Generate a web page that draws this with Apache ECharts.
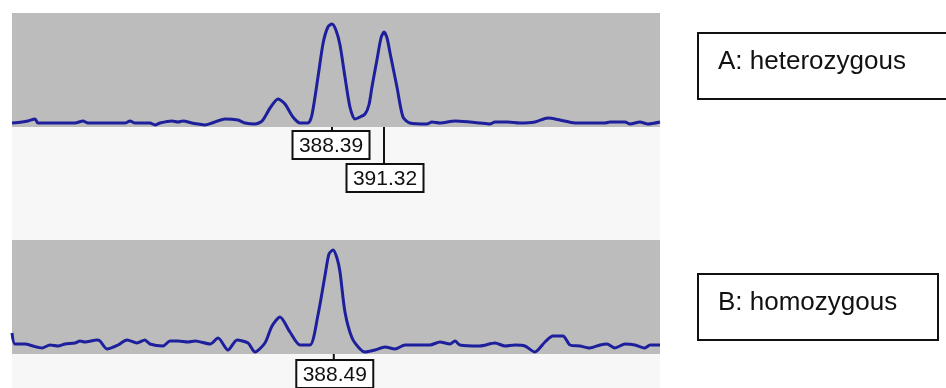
<!DOCTYPE html>
<html>
<head>
<meta charset="utf-8">
<script src="https://cdn.jsdelivr.net/npm/echarts@6/dist/echarts.min.js"></script>
<style>
	html, body { margin: 0; padding: 0; background: #ffffff; }
	#chart { width: 946px; height: 388px; }
</style>
</head>
<body>
<div id="chart"></div>
<script>
	// sample A (heterozygous): fragment size (bp) and signal
	const heteroBp = [370.36, 370.92, 371.26, 371.66, 371.82, 373.91, 374.36, 374.64, 376.73, 377.01, 377.29, 378.13, 378.42, 378.70, 379.37, 379.71, 380.00, 380.50, 380.84, 381.23, 381.63, 382.36, 383.09, 383.49, 384.05, 384.45, 384.90, 385.35, 385.74, 386.19, 386.59, 387.04, 387.26, 387.60, 387.89, 388.16, 388.39, 388.61, 388.84, 389.12, 389.40, 389.68, 389.97, 390.25, 390.47, 390.64, 390.92, 391.15, 391.32, 391.49, 391.66, 392.05, 392.39, 392.78, 393.74, 394.02, 394.47, 395.32, 396.16, 396.72, 397.29, 397.57, 398.30, 398.98, 399.82, 400.56, 401.23, 402.08, 403.77, 404.05, 404.90, 405.18, 405.74, 406.19, 406.87];
	const heteroRfu = [40, 50, 60, 80, 40, 40, 60, 40, 40, 60, 40, 40, 20, 40, 60, 50, 60, 40, 30, 20, 40, 80, 70, 40, 30, 60, 190, 280, 230, 100, 40, 40, 120, 500, 840, 1000, 1030, 970, 820, 500, 200, 80, 100, 130, 220, 400, 670, 890, 950, 890, 740, 400, 100, 40, 30, 50, 40, 60, 50, 40, 30, 50, 50, 40, 50, 90, 70, 40, 40, 50, 50, 30, 50, 30, 50];

	// sample B (homozygous)
	const homoBp = [370.36, 370.53, 371.09, 371.54, 372.05, 372.50, 372.95, 373.35, 373.91, 374.19, 374.47, 375.15, 375.32, 375.71, 376.33, 376.84, 377.40, 377.85, 378.13, 378.87, 379.26, 379.71, 380.28, 380.67, 381.52, 381.97, 382.53, 383.04, 383.66, 384.05, 384.61, 385.01, 385.46, 386.02, 386.59, 387.15, 387.60, 388.00, 388.22, 388.45, 388.67, 388.84, 389.12, 389.52, 389.97, 390.25, 390.81, 391.38, 391.94, 392.50, 393.07, 393.91, 394.47, 395.04, 395.32, 395.60, 396.72, 397.57, 398.14, 398.70, 399.26, 399.82, 400.39, 400.84, 401.40, 401.80, 402.36, 402.92, 403.49, 403.88, 404.33, 404.90, 405.46, 406.02, 406.31, 406.87];
	const homoRfu = [210, 100, 100, 80, 60, 90, 80, 100, 110, 130, 120, 140, 130, 50, 90, 140, 110, 140, 100, 80, 130, 130, 120, 130, 100, 160, 40, 140, 110, 20, 110, 280, 370, 220, 90, 90, 390, 790, 1000, 1040, 960, 820, 420, 160, 50, 20, 40, 70, 50, 90, 90, 90, 120, 100, 130, 90, 80, 110, 80, 90, 80, 20, 120, 180, 180, 90, 80, 60, 90, 100, 60, 100, 90, 60, 90, 90];

	// allele calls shown under the peaks
	const heteroCalls = [388.39, 391.32];
	const homoCalls = [388.49];
	const sampleNames = ["A: heterozygous", "B: homozygous"];

	const pairs = (xs, ys) => xs.map((x, i) => [x, ys[i]]);

	const myChart = echarts.init(document.getElementById("chart"));

	const lineColor = "#1d1f9c";
	const plotBg = "#bcbcbc";

	const option = {
		animation: false,
		backgroundColor: "#ffffff",
		grid: [
			{ left: 12, top: 13, width: 648, height: 114, show: true, backgroundColor: plotBg, borderWidth: 0 },
			{ left: 12, top: 240, width: 648, height: 114, show: true, backgroundColor: plotBg, borderWidth: 0 }
		],
		xAxis: [0, 1].map((g) => ({
			type: "value",
			gridIndex: g,
			min: 370.36,
			max: 406.87,
			show: false
		})),
		yAxis: [0, 1].map((g) => ({
			type: "value",
			gridIndex: g,
			min: 0,
			max: 1140,
			show: false
		})),
		series: [
			{
				type: "line",
				xAxisIndex: 0,
				yAxisIndex: 0,
				data: pairs(heteroBp, heteroRfu),
				showSymbol: false,
				smooth: 0.25,
				lineStyle: { color: lineColor, width: 3 }
			},
			{
				type: "line",
				xAxisIndex: 1,
				yAxisIndex: 1,
				data: pairs(homoBp, homoRfu),
				showSymbol: false,
				smooth: 0.25,
				lineStyle: { color: lineColor, width: 3 }
			}
		]
	};

	myChart.setOption(option);

	// boxed size labels, hung under each call by a short leader line
	const callBox = (grid, bp, drop, shift) => {
		const p = myChart.convertToPixel({ gridIndex: grid }, [bp, 0]);
		const bottom = grid === 0 ? 127 : 354;
		const w = 77, h = 28;
		const cx = p[0] + shift;
		return [
			{
				type: "line",
				shape: { x1: p[0], y1: bottom, x2: p[0], y2: bottom + drop },
				style: { stroke: "#111", lineWidth: 2 }
			},
			{
				type: "rect",
				shape: { x: cx - w / 2, y: bottom + drop, width: w, height: h },
				style: { fill: "#ffffff", stroke: "#111", lineWidth: 2 }
			},
			{
				type: "text",
				x: cx,
				y: bottom + drop + h / 2 + 1,
				style: {
					text: bp.toFixed(2),
					fill: "#111",
					font: "21px 'Liberation Sans', Arial, sans-serif",
					align: "center",
					verticalAlign: "middle"
				}
			}
		];
	};

	const sampleBox = (name, y, w) => [
		{
			type: "rect",
			shape: { x: 698, y: y, width: w, height: 66 },
			style: { fill: "#ffffff", stroke: "#111", lineWidth: 2 }
		},
		{
			type: "text",
			x: 718,
			y: y + 29,
			style: {
				text: name,
				fill: "#111",
				font: "26px 'Liberation Sans', Arial, sans-serif",
				verticalAlign: "middle"
			}
		}
	];

	myChart.setOption({
		graphic: [
			// pale paper under the traces
			{
				type: "rect",
				z: -10,
				shape: { x: 12, y: 127, width: 648, height: 261 },
				style: { fill: "#f7f7f7" }
			},
			...callBox(0, heteroCalls[0], 4, -1),
			...callBox(0, heteroCalls[1], 37, 1),
			...callBox(1, homoCalls[0], 6, 1),
			...sampleBox(sampleNames[0], 33, 260),
			...sampleBox(sampleNames[1], 274, 240)
		]
	});

	window.addEventListener("resize", () => {
		myChart.resize();
	});
</script>
</body>
</html>
